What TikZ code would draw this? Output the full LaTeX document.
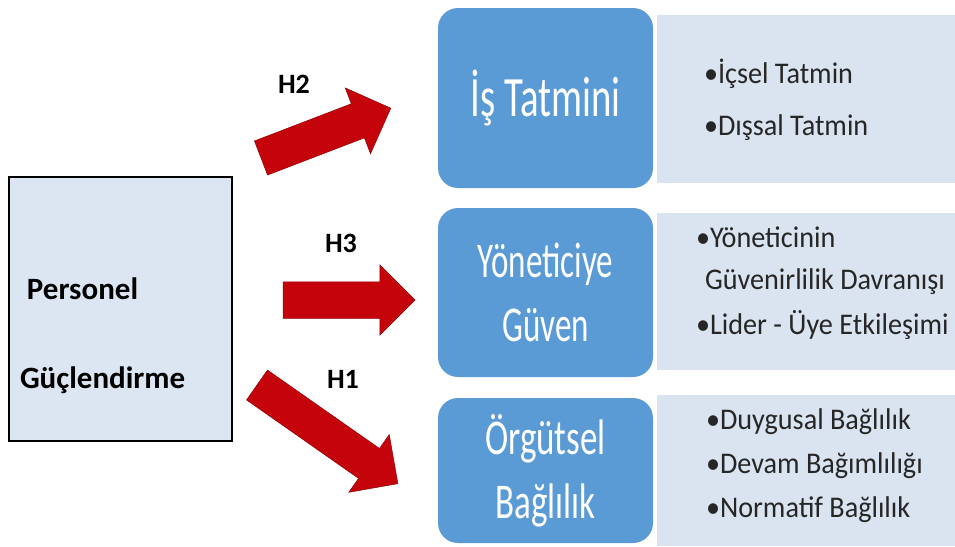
\documentclass[tikz,border=0pt]{standalone}
\usepackage{fontspec}
\setmainfont{Carlito}
\usetikzlibrary{positioning, shapes.arrows}
\definecolor{boxblue}{RGB}{91,155,213}
\definecolor{panelblue}{RGB}{218,227,240}
\definecolor{leftblue}{RGB}{220,230,242}
\definecolor{arrowred}{RGB}{196,4,10}
\newcommand{\squeeze}[2][0.66]{\scalebox{#1}[1]{#2}}
\begin{document}
\begin{tikzpicture}[x=1pt, y=-1pt,
every node/.style = {inner sep=0pt, outer sep=0pt},
      bbox/.style = {rectangle, rounded corners=20pt, fill=boxblue, text=white,
                     minimum width=215pt, align=center,
                     font=\fontsize{50}{64}\selectfont},
     panel/.style = {rectangle, fill=panelblue, anchor=north west, minimum width=298pt},
      item/.style = {anchor=base west, text=black!85, font=\fontsize{30}{36}\selectfont},
    harrow/.style = {single arrow, single arrow head extend=17pt, inner sep=18pt,
                     anchor=tail, fill=arrowred, draw=arrowred!75!black, line width=0.5pt},
    hlabel/.style = {anchor=base west, font=\bfseries\fontsize{28}{30}\selectfont},
     pname/.style = {anchor=base west, font=\bfseries\fontsize{31}{34}\selectfont}
                    ]
\useasboundingbox (0,0) rectangle (955,546);
% left box
\node (pg) [draw, line width=1.2pt, fill=leftblue, minimum width=223pt, minimum height=264pt] at (120.5,309) {};
\node (pers) [pname] at (27,299) {Personel};
\node (guc)  [pname] at (20,388) {Güçlendirme};
% panels
\node (p1) [panel, minimum height=168pt] at (657,15) {};
\node (p2) [panel, minimum height=157pt] at (657,213) {};
\node (p3) [panel, minimum height=151pt] at (657,395) {};
% blue boxes
\node (ist) [bbox, minimum height=180pt, font=\fontsize{57}{64}\selectfont] at (545.5,98) {\squeeze[0.68]{İş Tatmini}};
\node (yg)  [bbox, minimum height=169pt] at (545.5,292.5) {\squeeze{Yöneticiye}\\\squeeze{Güven}};
\node (ob)  [bbox, minimum height=145pt] at (545.5,470.5) {\squeeze[0.7]{Örgütsel}\\\squeeze[0.7]{Bağlılık}};
% items
\node (i1) [item] at (704,83)  {\squeeze[0.94]{•İçsel Tatmin}};
\node (i2) [item] at (704,135) {\squeeze[0.94]{•Dışsal Tatmin}};
\node (i3) [item] at (696,247) {\squeeze[0.94]{•Yöneticinin}};
\node (i4) [item] at (705,289) {\squeeze[0.94]{Güvenirlilik Davranışı}};
\node (i5) [item] at (696,334) {\squeeze[0.94]{•Lider - Üye Etkileşimi}};
\node (i6) [item] at (706,429) {\squeeze[0.94]{•Duygusal Bağlılık}};
\node (i7) [item] at (706,473) {\squeeze[0.94]{•Devam Bağımlılığı}};
\node (i8) [item] at (706,517) {\squeeze[0.94]{•Normatif Bağlılık}};
% arrows
\node (a2) [harrow, rotate=21, minimum height=139pt] at (261,158) {};
\node (a3) [harrow, minimum height=132pt] at (283,300) {};
\node (a1) [harrow, rotate=-35, minimum height=172pt] at (257,385) {};
\node (h2) [hlabel] at (278,93)  {H2};
\node (h3) [hlabel] at (325,252) {H3};
\node (h1) [hlabel] at (327,388) {H1};
\end{tikzpicture}
\end{document}
